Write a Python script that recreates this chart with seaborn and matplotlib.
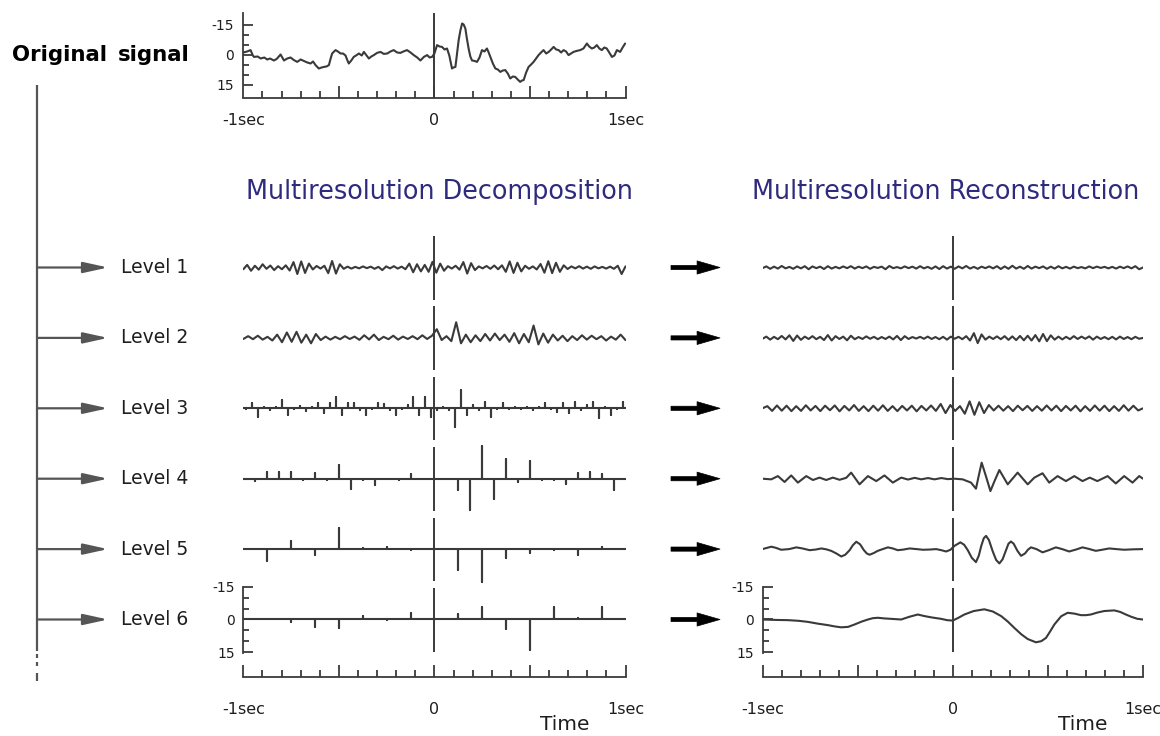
import numpy as np
import pandas as pd
import matplotlib
matplotlib.use("Agg")
import matplotlib.pyplot as plt
from matplotlib.patches import FancyArrowPatch
from matplotlib.ticker import FixedLocator, FixedFormatter, MultipleLocator, NullFormatter
import seaborn as sns

# ------------------------------------------------------------------ data
# original signal (time in s, amplitude; positive values are drawn downward)
orig_t = [-1.00, -0.98, -0.962, -0.95, -0.944, -0.925, -0.909, -0.89, -0.875, -0.86,
          -0.84, -0.825, -0.805, -0.787, -0.77, -0.753, -0.735, -0.718, -0.70, -0.683,
          -0.665, -0.648, -0.635, -0.622, -0.605, -0.59, -0.578, -0.565, -0.552, -0.543,
          -0.535, -0.525, -0.517, -0.505, -0.491, -0.478, -0.465, -0.455, -0.448, -0.435,
          -0.422, -0.41, -0.395, -0.38, -0.369, -0.355, -0.343, -0.33, -0.317, -0.30,
          -0.282, -0.265, -0.247, -0.23, -0.213, -0.195, -0.178, -0.16, -0.143, -0.125,
          -0.108, -0.09, -0.073, -0.055, -0.038, -0.025, -0.012, 0.0, 0.014, 0.027,
          0.040, 0.053, 0.066, 0.078, 0.092, 0.10, 0.110, 0.118, 0.127, 0.136,
          0.145, 0.153, 0.162, 0.170, 0.179, 0.188, 0.197, 0.21, 0.223, 0.236,
          0.249, 0.262, 0.275, 0.284, 0.293, 0.306, 0.319, 0.332, 0.345, 0.358,
          0.371, 0.384, 0.397, 0.41, 0.423, 0.436, 0.449, 0.458, 0.467, 0.48,
          0.493, 0.506, 0.519, 0.532, 0.545, 0.558, 0.571, 0.585, 0.598, 0.611,
          0.624, 0.637, 0.650, 0.663, 0.676, 0.689, 0.702, 0.715, 0.728, 0.745,
          0.763, 0.78, 0.798, 0.81, 0.824, 0.837, 0.850, 0.863, 0.876, 0.889,
          0.902, 0.915, 0.929, 0.942, 0.955, 0.972, 0.985, 0.998]
orig_v = [-1.0, -1.5, -2.2, 0.5, 1.2, 1.0, 2.0, 1.5, 2.5, 2.0,
          3.0, 2.2, 0.0, 3.0, 2.0, 1.5, 2.8, 3.7, 2.5, 3.2,
          4.0, 4.5, 3.5, 5.3, 7.0, 6.5, 6.2, 6.0, 5.3, 2.0,
          -0.5, -1.5, -2.2, -1.5, -0.5, -0.5, 0.5, 3.0, 4.5, 3.0,
          1.2, 0.5, -0.5, 0.5, -1.3, 0.5, 2.0, 1.0, 0.3, -0.8,
          -1.3, -0.3, -0.5, -1.5, -2.2, -1.0, -0.8, -1.6, -2.2, -1.0,
          0.3, 1.5, 3.0, 1.2, 0.3, 1.5, 1.2, -0.5, -4.7, -4.0,
          -3.8, -2.5, -3.0, 0.5, 7.0, 6.5, 6.2, 0.0, -7.2, -12.0,
          -15.5, -15.0, -13.0, -8.0, -3.0, 1.0, 3.0, 3.2, 3.7, 1.5,
          -2.2, -1.5, -3.0, -1.0, 1.2, 4.5, 7.0, 7.5, 8.7, 8.0,
          7.8, 9.5, 12.0, 11.0, 11.2, 12.5, 13.7, 13.0, 12.8, 9.0,
          6.2, 5.0, 3.7, 2.0, 0.3, -1.0, -2.2, -0.5, -1.3, -2.5,
          -3.8, -2.5, -2.2, -1.0, -2.2, -1.5, 0.3, -0.5, -1.3, -1.8,
          -2.2, -3.0, -5.5, -4.0, -3.0, -3.5, -4.7, -3.0, -2.2, -3.5,
          -3.0, -1.0, 1.2, 0.5, -2.2, -1.3, -3.5, -5.5]

# multiresolution decomposition (detail coefficients per level)
dec_l1 = [0.8, -1.2, 1.5, -0.8, 1.0, -1.5, 0.6, -0.9, 1.2, -0.6,
          0.8, -1.0, 1.4, -2.5, 3.0, -2.8, 2.5, -1.8, 0.9, -0.7,
          0.5, -0.8, 2.6, -3.0, 2.8, -1.5, 0.6, -0.4, 0.5, -0.3,
          0.4, -0.5, 0.3, -0.4, 0.6, -0.3, 1.2, -0.5, 0.4, -0.6,
          0.5, -0.4, 0.8, -1.8, 2.2, -1.5, 1.8, -1.2, 2.0, -2.6,
          2.4, -1.8, 1.5, -0.6, 0.5, -0.8, 1.0, -2.5, 2.8, -2.0,
          1.2, -0.5, 0.4, -0.7, 0.6, -0.9, 0.8, -1.0, 2.0, -2.8,
          2.5, -2.2, 1.8, -0.8, 0.6, -0.5, 0.9, -1.6, 2.4, -2.9,
          2.6, -2.2, 2.0, -1.0, 0.7, -0.5, 0.4, -0.6, 0.5, -0.4,
          0.6, -0.5, 0.4, -0.3, 0.5, -0.4, 0.6, -0.8, 3.0, -0.5]
dec_l2 = [0.5, -0.8, 0.6, -1.0, 0.8, -0.5, 1.2, -1.5, 2.0, -2.5,
          1.8, -2.8, 2.2, -1.5, 2.5, -1.8, 1.0, -0.6, 0.8, -0.5,
          0.6, -0.8, 0.5, -0.6, 0.9, -1.2, 0.7, -1.5, 1.0, -0.5,
          0.6, -1.0, 0.8, -0.6, 0.5, -0.8, 0.6, -1.2, 0.5, -1.0,
          -4.0, 1.0, -0.8, 1.5, -7.2, 2.5, -1.5, 2.0, -1.2, 1.5,
          -1.8, 1.2, -2.0, 1.0, -1.5, 1.8, -2.2, 2.5, -1.8, 2.0,
          -5.7, 3.0, -2.0, 2.2, -1.5, 1.2, -1.0, 1.5, -0.8, 1.0,
          -1.2, 0.8, -1.0, 0.6, -0.8, 1.2, -0.6, 0.8, -1.5, 1.0]
dec_l3 = [0.5, -2.3, 3.8, -0.6, 0.8, -0.8, -3.8, 3.0, 0.5, -1.0,
          1.2, -0.8, -2.3, 2.3, -2.3, -5.4, 3.0, -2.3, -2.3, 0.6,
          3.0, 0.5, -2.3, -2.0, 0.6, 3.0, 0.5, -1.5, -5.4, 3.0,
          -5.4, 3.8, 0.6, -0.5, 0.8, 8.5, -8.5, 3.0, -1.5, 0.6,
          -3.0, 3.8, 0.5, -2.3, 0.5, -0.6, 0.4, -0.5, 0.6, -0.5,
          -2.3, 0.5, 1.5, -2.3, 2.3, -3.0, 0.6, -1.5, -3.0, 4.6,
          -0.6, 3.0, 0.5, -3.0]
dec_l4 = [0.0, 1.0, -3.1, -3.1, -3.1, 0.8, -2.6, 0.8, -6.2, 4.6,
          0.5, 3.1, 0.3, 0.8, -2.0, 0.3, 0.0, 0.3, 5.4, 14.6,
          -15.0, 9.2, -9.2, 1.5, -8.0, 0.8, 0.8, 2.6, -2.6, -3.1,
          -2.3, 5.0, 0.0]
dec_l5 = [0.0, 5.5, -3.8, 2.5, -9.8, -0.5, -0.8, 0.5, -0.5, 9.7,
          15.0, 4.0, 2.0, 0.5, 2.8, -0.8, 0.0]
dec_l6 = [0.0, -0.3, 1.0, 3.4, 3.7, -1.5, 0.3, -3.0, 0.0, -2.5,
          -5.8, 4.2, 14.0, -5.8, -0.5, -5.8, 0.0]

# multiresolution reconstruction
rec_l1 = [0.3, -0.5, 0.6, -0.4, 0.5, -0.7, 0.4, -0.3, 0.6, -0.5,
          0.4, -0.6, 0.8, -0.5, 0.3, -0.4, 0.7, -0.6, 0.5, -0.3,
          0.4, -0.5, 0.3, -0.6, 0.5, -0.4, 0.3, -0.5, 0.6, -0.3,
          0.2, -0.4, 0.8, -0.7, 0.3, -0.2, 0.4, -0.5, 0.3, -0.4,
          0.5, -0.6, 0.4, -0.3, 0.6, -0.5, 0.7, -0.6, 0.5, -0.4,
          0.6, -0.5, 0.4, -0.7, 0.5, -0.3, 0.6, -0.4, 0.3, -0.5,
          0.4, -0.6, 0.7, -0.5, 0.6, -0.8, 0.5, -0.4, 0.6, -0.7,
          0.5, -0.4, 0.3, -0.5, 0.6, -0.4, 0.5, -0.6, 0.4, -0.3,
          0.5, -0.4, 0.3, -0.2, 0.4, -0.5, 0.3, -0.4, 0.2, -0.3,
          0.4, -0.3, 0.5, -0.4, 0.3, -0.5, 0.4, -0.6, 0.8, 0.0]
rec_l2 = [0.4, -0.6, 0.8, -0.5, 0.6, -0.9, 0.7, -1.2, 1.4, -1.1,
          0.9, -0.6, 0.5, -0.8, 0.6, -0.5, 1.0, -1.3, 1.2, -0.8,
          0.5, -0.6, 1.1, -1.0, 0.6, -0.4, 0.5, -0.7, 0.4, -0.5,
          0.6, -0.4, 0.5, -0.6, 0.7, -0.9, 1.0, -0.8, 0.5, -0.4,
          0.3, -0.5, 0.4, -0.6, 0.5, -0.4, 0.6, -0.5, 0.8, -0.6,
          0.4, -0.5, 0.6, -0.8, 1.2, -2.2, 2.4, -1.6, 0.8, -0.6,
          0.5, -0.7, 0.6, -0.8, 0.9, -0.7, 1.0, -0.9, 1.1, -1.0,
          1.2, -1.3, 1.6, -1.8, 1.5, -1.2, 0.8, -0.6, 0.7, -0.5,
          0.6, -0.8, 0.5, -0.6, 0.4, -0.7, 0.8, -0.6, 0.5, -0.4,
          0.6, -0.5, 0.7, -0.6, 0.5, -0.4, 0.6, -0.5, 0.4, 0.0]
rec_l3 = [0.0, -1.0, 1.2, -1.3, 1.1, -1.2, 1.3, -1.0, 1.2, -1.4,
          1.0, -1.1, 1.3, -1.2, 0.9, -1.3, 1.4, -1.1, 1.0, -1.5,
          1.2, -1.0, 1.3, -1.2, 1.1, -1.4, 1.2, -1.0, 1.3, -1.1,
          1.0, -1.2, 1.4, -1.1, 1.0, -1.3, 1.2, -2.0, 2.2, -1.5,
          1.2, -1.0, 2.5, -3.2, 3.0, -2.8, 2.2, -1.5, 1.0, -1.2,
          1.1, -1.0, 1.3, -1.2, 0.9, -1.1, 1.2, -1.0, 1.1, -1.3,
          1.0, -1.2, 1.3, -1.1, 1.0, -1.2, 1.4, -1.0, 1.2, -1.3,
          1.1, -1.2, 1.3, -1.0, 1.2, -1.4, 1.1, -1.2, 1.0, 0.0]
rec_l4_t = [-1.0, -0.954, -0.919, -0.884, -0.849, -0.814, -0.770, -0.735, -0.70, -0.665,
            -0.63, -0.595, -0.56, -0.534, -0.49, -0.446, -0.402, -0.359, -0.315, -0.271,
            -0.235, -0.2, -0.166, -0.13, -0.096, -0.06, -0.026, 0.009, 0.052, 0.096,
            0.122, 0.137, 0.152, 0.175, 0.198, 0.22, 0.245, 0.289, 0.341, 0.394,
            0.429, 0.472, 0.507, 0.551, 0.595, 0.639, 0.682, 0.72, 0.76, 0.814,
            0.857, 0.901, 0.945, 0.98, 1.0]
rec_l4_v = [0.0, 0.3, -1.2, 1.5, -1.5, 1.8, -1.2, 0.6, -0.5, 0.6,
            -0.5, 0.5, -0.4, -2.8, 2.6, -1.2, 1.1, -1.5, 1.8, -0.5,
            0.4, -0.4, 0.3, -0.3, 0.3, -0.3, 0.2, 0.0, 0.3, 1.8,
            4.6, -1.5, -7.4, -1.0, 5.7, 1.0, -4.0, 2.6, -2.8, 2.6,
            -0.5, -2.5, 1.8, -1.2, 1.1, -1.2, 1.1, -0.5, 1.1, -1.2,
            2.2, -1.2, 1.8, -1.2, 0.0]
rec_l5_t = [-1.0, -0.975, -0.954, -0.93, -0.902, -0.86, -0.822, -0.79, -0.752, -0.72,
            -0.691, -0.665, -0.639, -0.612, -0.586, -0.565, -0.542, -0.525, -0.507, -0.487,
            -0.467, -0.452, -0.437, -0.415, -0.394, -0.368, -0.341, -0.315, -0.289, -0.258,
            -0.227, -0.19, -0.157, -0.12, -0.087, -0.06, -0.035, -0.012, 0.009, 0.040,
            0.06, 0.079, 0.10, 0.122, 0.137, 0.15, 0.163, 0.175, 0.19, 0.21,
            0.228, 0.245, 0.262, 0.28, 0.293, 0.306, 0.32, 0.34, 0.359, 0.38,
            0.395, 0.411, 0.44, 0.472, 0.505, 0.542, 0.575, 0.612, 0.648, 0.682,
            0.715, 0.752, 0.785, 0.822, 0.86, 0.901, 0.95, 1.0]
rec_l5_v = [0.0, -0.6, -1.1, -0.6, 0.3, 0.0, -0.8, -0.3, 0.5, 0.2,
            -0.3, 0.1, 0.8, 2.0, 3.4, 2.6, 0.5, -1.8, -3.4, -2.2,
            0.5, 2.0, 2.6, 1.8, 0.8, 0.0, -0.8, -0.3, 0.5, 0.2,
            -0.3, 0.0, 0.3, 0.2, 0.0, 0.5, 1.1, 0.3, -1.5, -3.1,
            -2.0, 0.5, 4.0, 6.0, 3.0, -1.5, -5.0, -6.1, -4.2, 1.0,
            5.0, 6.6, 4.7, 0.5, -2.5, -3.5, -2.5, 0.8, 3.1, 2.0,
            0.3, -0.8, 0.0, 1.5, 0.5, -0.8, 0.0, 1.1, 0.2, -0.8,
            -0.1, 0.8, 0.3, -0.3, 0.0, 0.3, 0.1, 0.0]
rec_l6_t = [-1.0, -0.93, -0.866, -0.81, -0.761, -0.71, -0.656, -0.62, -0.586, -0.55,
            -0.516, -0.48, -0.446, -0.42, -0.394, -0.36, -0.324, -0.271, -0.23, -0.184,
            -0.15, -0.114, -0.061, -0.03, 0.0, 0.03, 0.061, 0.11, 0.166, 0.21,
            0.254, 0.29, 0.324, 0.36, 0.394, 0.437, 0.465, 0.49, 0.512, 0.534,
            0.57, 0.604, 0.64, 0.674, 0.70, 0.726, 0.76, 0.796, 0.849, 0.88,
            0.91, 0.94, 0.971, 1.0]
rec_l6_v = [0.0, 0.2, 0.3, 0.6, 1.1, 1.9, 2.6, 3.2, 3.6, 3.4,
            2.3, 1.0, 0.0, -0.6, -0.8, -0.5, -0.3, 0.0, -1.2, -2.3,
            -1.6, -1.0, -0.3, 0.3, 0.5, -0.8, -2.3, -3.9, -4.7, -3.7,
            -1.6, 1.0, 3.9, 6.8, 9.0, 10.5, 10.0, 8.5, 5.5, 2.3,
            -1.5, -3.1, -2.7, -2.0, -2.0, -2.3, -3.2, -3.9, -4.2, -3.5,
            -2.3, -1.2, -0.3, 0.0]

level_labels = ["Level 1", "Level 2", "Level 3", "Level 4", "Level 5", "Level 6"]
x_tick_labels = ["-1sec", "", "0", "", "1sec"]
y_tick_labels = ["-15", "0", "15"]
panel_titles = ["Multiresolution Decomposition", "Multiresolution Reconstruction"]

# ------------------------------------------------------------------ style
sns.set_theme(style="white")
plt.rcParams["font.family"] = ["DejaVu Sans"]

LINE = "#3a3a3a"
TREE = "#555555"
TEXT = "#1e1e1e"
TITLE = "#2e2a7e"

W, H = 1160, 736
fig = plt.figure(figsize=(W / 100, H / 100), dpi=100)
fig.patch.set_facecolor("white")


def px_axes(x0, y0, x1, y1):
    ax = fig.add_axes([x0 / W, 1 - y1 / H, (x1 - x0) / W, (y1 - y0) / H])
    ax.set_facecolor("none")
    return ax


# background overlay in pixel coordinates
bg = px_axes(0, 0, W, H)
bg.set_xlim(0, W)
bg.set_ylim(H, 0)
bg.axis("off")

ROW0_PX = 267.5
ROW_PX = 70.4
UNIT_PX = 2.17
ROW = ROW_PX / UNIT_PX


def style_time_axis(ax, pad):
    ax.set_xlim(-1, 1)
    ax.xaxis.set_major_locator(FixedLocator([-1, -0.5, 0, 0.5, 1]))
    ax.xaxis.set_major_formatter(FixedFormatter(x_tick_labels))
    ax.xaxis.set_minor_locator(MultipleLocator(0.1))
    ax.tick_params(axis="x", which="major", direction="in", length=8.4, width=1.3,
                   color=LINE, pad=pad, labelsize=11.5, labelcolor=TEXT, bottom=True)
    ax.tick_params(axis="x", which="minor", direction="in", length=4.8, width=1.3,
                   color=LINE, bottom=True)
    ax.set_xlabel("")
    ax.set_ylabel("")
    for s in ("top", "right"):
        ax.spines[s].set_visible(False)
    for s in ("left", "bottom"):
        ax.spines[s].set_visible(True)
        ax.spines[s].set_color(LINE)
        ax.spines[s].set_linewidth(1.3)


def style_amp_axis(ax, center, top_bound, pad):
    ax.spines["left"].set_bounds(top_bound, center + 15.3)
    ax.yaxis.set_major_locator(FixedLocator([center - 15, center, center + 15]))
    ax.yaxis.set_major_formatter(FixedFormatter(y_tick_labels))
    ax.yaxis.set_minor_locator(FixedLocator([center - 10, center - 5, center + 5, center + 10]))
    ax.yaxis.set_minor_formatter(NullFormatter())
    ax.tick_params(axis="y", which="major", direction="in", length=7, width=1.3,
                   color=LINE, pad=pad, labelsize=10, labelcolor=TEXT, left=True)
    ax.tick_params(axis="y", which="minor", direction="in", length=4, width=1.3,
                   color=LINE, left=True)
    ax.grid(False)


# ------------------------------------------------------------------ top: original signal
ax_top = px_axes(243.3, 13, 625.5, 98)
orig_df = pd.DataFrame({"t": orig_t, "v": orig_v})
sns.lineplot(data=orig_df, x="t", y="v", estimator=None, sort=False,
             color=LINE, linewidth=1.5, ax=ax_top)
ax_top.set_ylim(21.75, -20.75)
ax_top.axvline(0, color=LINE, lw=1.4)
style_time_axis(ax_top, pad=11)
style_amp_axis(ax_top, 0, -20.75, pad=6.5)


# ------------------------------------------------------------------ panels
def line_frame(t, v, row):
    return pd.DataFrame({"t": np.asarray(t, float), "v": np.asarray(v, float), "row": row})


def zigzag_frame(values, row):
    return line_frame(np.linspace(-1, 1, len(values)), values, row)


def stem_frame(values, row, centered=False):
    n = len(values)
    pos = (-1 + (np.arange(n) + 0.5) * 2 / n) if centered else np.linspace(-1, 1, n)
    ts, vs = [-1.0], [0.0]
    for p, v in zip(pos, values):
        ts += [p, p, p]
        vs += [0.0, v, 0.0]
    ts.append(1.0)
    vs.append(0.0)
    return line_frame(ts, vs, row)


def draw_panel(x0, x1, frames):
    ax = px_axes(x0, 228, x1, 676.7)
    df = pd.concat(frames, ignore_index=True)
    df["y"] = df["v"] + df["row"] * ROW
    sns.lineplot(data=df, x="t", y="y", units="row", estimator=None, sort=False,
                 color=LINE, linewidth=1.5, ax=ax)
    ax.set_ylim((676.7 - ROW0_PX) / UNIT_PX, (228 - ROW0_PX) / UNIT_PX)
    for k in range(6):
        ax.vlines(0, k * ROW - 14.5, k * ROW + 14.8, color=LINE, lw=1.4)
    style_time_axis(ax, pad=18)
    style_amp_axis(ax, 5 * ROW, 5 * ROW - 15, pad=6)
    return ax


ax_dec = draw_panel(243.3, 625.5, [
    zigzag_frame(dec_l1, 0),
    zigzag_frame(dec_l2, 1),
    stem_frame(dec_l3, 2, centered=True),
    stem_frame(dec_l4, 3),
    stem_frame(dec_l5, 4),
    stem_frame(dec_l6, 5),
])

ax_rec = draw_panel(762.5, 1143, [
    zigzag_frame(rec_l1, 0),
    zigzag_frame(rec_l2, 1),
    zigzag_frame(rec_l3, 2),
    line_frame(rec_l4_t, rec_l4_v, 3),
    line_frame(rec_l5_t, rec_l5_v, 4),
    line_frame(rec_l6_t, rec_l6_v, 5),
])

# ------------------------------------------------------------------ annotations
bg.text(12, 55, "Original", fontsize=15.3, fontweight="bold", color="black",
        ha="left", va="center")
bg.text(118, 55, "signal", fontsize=15.3, fontweight="bold", color="black",
        ha="left", va="center")

bg.text(439, 199, panel_titles[0], fontsize=18.4, color=TITLE, ha="center", va="baseline")
bg.text(946, 199, panel_titles[1], fontsize=18.4, color=TITLE, ha="center", va="baseline")

bg.text(565, 730, "Time", fontsize=14.5, color=TEXT, ha="center", va="baseline")
bg.text(1083, 730, "Time", fontsize=14.5, color=TEXT, ha="center", va="baseline")

# tree on the left
bg.plot([37, 37], [85, 651], color=TREE, lw=1.6, solid_capstyle="butt")
for y0, y1 in [(654, 658), (662, 666), (673, 681)]:
    bg.plot([37, 37], [y0, y1], color=TREE, lw=1.6, solid_capstyle="butt")

for k in range(6):
    y = ROW0_PX + k * ROW_PX
    bg.add_patch(FancyArrowPatch((37, y), (108, y),
                                 arrowstyle="-|>,head_length=15,head_width=3.3",
                                 color=TREE, lw=1.6, shrinkA=0, shrinkB=0))
    bg.text(121, y, level_labels[k], fontsize=13.5, color=TEXT, ha="left", va="center")
    bg.add_patch(FancyArrowPatch((671, y), (720, y),
                                 arrowstyle="simple,head_length=16.5,head_width=9.5,tail_width=3",
                                 facecolor="black", edgecolor="black", lw=0.5,
                                 shrinkA=0, shrinkB=0))

fig.savefig("out.png", dpi=100, facecolor="white")
